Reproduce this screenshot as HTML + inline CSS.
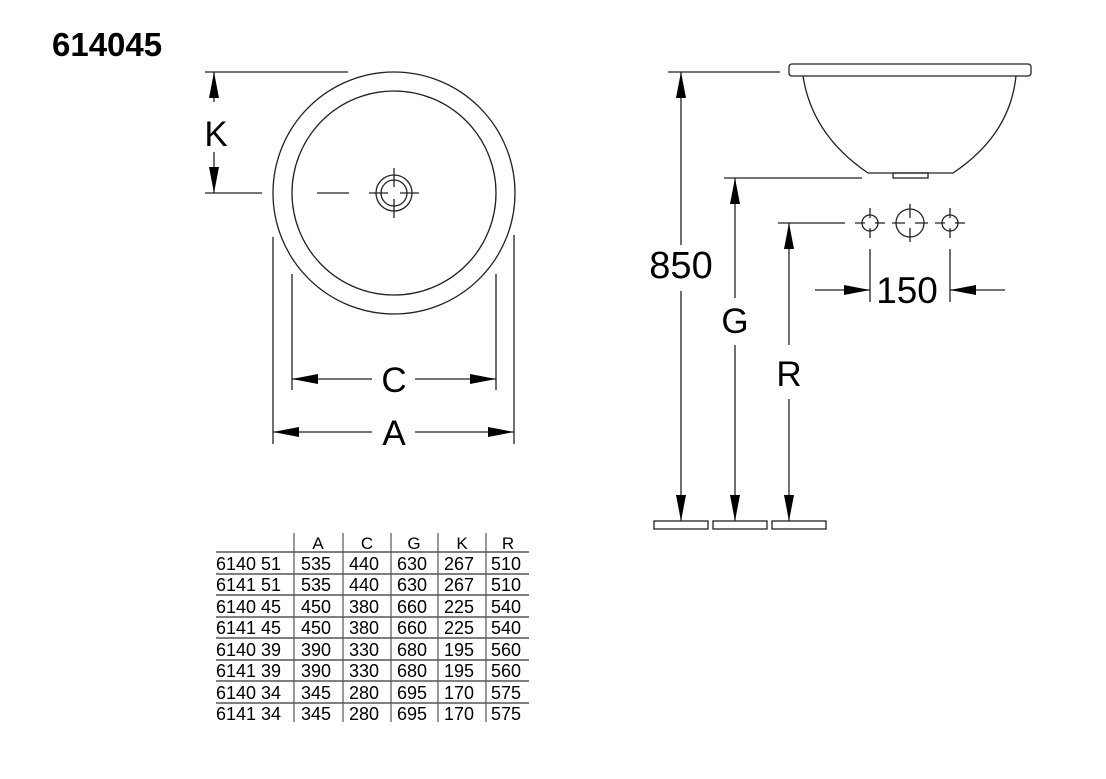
<!DOCTYPE html>
<html><head><meta charset="utf-8"><style>
html,body{margin:0;padding:0;background:#fff;}
svg{display:block;}
text{font-family:"Liberation Sans",sans-serif;fill:#000;}
</style></head><body>
<svg width="1106" height="779" viewBox="0 0 1106 779" xmlns="http://www.w3.org/2000/svg">
<defs>
<marker id="ar" markerWidth="26" markerHeight="10" refX="26" refY="5" orient="auto" markerUnits="userSpaceOnUse">
<path d="M0,0 L26,5 L0,10 Z" fill="#000"/></marker>
</defs>
<text x="52" y="56" font-size="33" font-weight="bold">614045</text>

<g stroke="#222" stroke-width="1.3" fill="none">
<circle cx="394" cy="193" r="121"/>
<circle cx="394" cy="193" r="102"/>
<circle cx="394" cy="193" r="18"/>
<circle cx="394" cy="193" r="13"/>
<line x1="317" y1="193" x2="349" y2="193"/>
<line x1="369" y1="193" x2="388" y2="193"/>
<line x1="400" y1="193" x2="419" y2="193"/>
<line x1="394" y1="168" x2="394" y2="187"/>
<line x1="394" y1="199" x2="394" y2="218"/>
<line x1="205" y1="72" x2="348" y2="72"/>
<line x1="205" y1="193" x2="262" y2="193"/>
<line x1="214" y1="102" x2="214" y2="72" marker-end="url(#ar)"/>
<line x1="214" y1="152" x2="214" y2="193" marker-end="url(#ar)"/>
<line x1="273" y1="237" x2="273" y2="444"/>
<line x1="514" y1="235" x2="514" y2="444"/>
<line x1="292" y1="274" x2="292" y2="390"/>
<line x1="496" y1="274" x2="496" y2="390"/>
<line x1="372" y1="379" x2="292" y2="379" marker-end="url(#ar)"/>
<line x1="415" y1="379" x2="496" y2="379" marker-end="url(#ar)"/>
<line x1="372" y1="432" x2="273" y2="432" marker-end="url(#ar)"/>
<line x1="415" y1="432" x2="514" y2="432" marker-end="url(#ar)"/>

<rect x="789" y="64" width="242" height="12" rx="3"/>
<path d="M803,76 Q812,135 868,173 L953,173 Q1010,135 1016,76"/>
<rect x="893" y="173" width="35" height="5"/>
<line x1="668" y1="72" x2="780" y2="72"/>
<line x1="724" y1="178" x2="862" y2="178"/>
<line x1="778" y1="223" x2="845" y2="223"/>
<line x1="681" y1="245" x2="681" y2="72" marker-end="url(#ar)"/>
<line x1="681" y1="291" x2="681" y2="521" marker-end="url(#ar)"/>
<line x1="735" y1="298" x2="735" y2="178" marker-end="url(#ar)"/>
<line x1="735" y1="345" x2="735" y2="521" marker-end="url(#ar)"/>
<line x1="789" y1="345" x2="789" y2="223" marker-end="url(#ar)"/>
<line x1="789" y1="399" x2="789" y2="521" marker-end="url(#ar)"/>
<rect x="654" y="521" width="54" height="8"/>
<rect x="713" y="521" width="54" height="8"/>
<rect x="772" y="521" width="54" height="8"/>
<circle cx="870" cy="223" r="8"/>
<circle cx="910" cy="223" r="14"/>
<circle cx="950" cy="223" r="8"/>
<path d="M855,223h10M875,223h10M870,208v10M870,228v10 M892,223h13M915,223h13M910,204v14M910,228v14 M935,223h10M955,223h10M950,208v10M950,228v10"/>
<line x1="870" y1="249" x2="870" y2="302"/>
<line x1="950" y1="249" x2="950" y2="302"/>
<line x1="815" y1="290" x2="870" y2="290" marker-end="url(#ar)"/>
<line x1="1005" y1="290" x2="950" y2="290" marker-end="url(#ar)"/>
</g>

<g font-size="35" text-anchor="middle">
<text x="216" y="146">K</text>
<text x="394" y="392">C</text>
<text x="394" y="445">A</text>
<text x="681" y="278" font-size="38">850</text>
<text x="735" y="333">G</text>
<text x="789" y="386">R</text>
<text x="907" y="303" font-size="37">150</text>
</g>

<g stroke="#333" stroke-width="1">
<line x1="294" y1="533" x2="294" y2="722"/>
<line x1="343" y1="533" x2="343" y2="722"/>
<line x1="391" y1="533" x2="391" y2="722"/>
<line x1="438" y1="533" x2="438" y2="722"/>
<line x1="486" y1="533" x2="486" y2="722"/>
</g>
<g stroke="#555" stroke-width="1.6">
<line x1="216" y1="552" x2="529" y2="552"/>
<line x1="216" y1="574" x2="529" y2="574"/>
<line x1="216" y1="595" x2="529" y2="595"/>
<line x1="216" y1="617" x2="529" y2="617"/>
<line x1="216" y1="638" x2="529" y2="638"/>
<line x1="216" y1="660" x2="529" y2="660"/>
<line x1="216" y1="681" x2="529" y2="681"/>
<line x1="216" y1="703" x2="529" y2="703"/>
</g>
<g font-size="17" text-anchor="middle">
<text x="318" y="549">A</text><text x="367" y="549">C</text><text x="414" y="549">G</text><text x="462" y="549">K</text><text x="508" y="549">R</text>
</g>
<g font-size="18">
<g transform="translate(0,570)"><text x="216">6140 51</text><text x="301">535</text><text x="349">440</text><text x="397">630</text><text x="444">267</text><text x="491">510</text></g>
<g transform="translate(0,591)"><text x="216">6141 51</text><text x="301">535</text><text x="349">440</text><text x="397">630</text><text x="444">267</text><text x="491">510</text></g>
<g transform="translate(0,613)"><text x="216">6140 45</text><text x="301">450</text><text x="349">380</text><text x="397">660</text><text x="444">225</text><text x="491">540</text></g>
<g transform="translate(0,634)"><text x="216">6141 45</text><text x="301">450</text><text x="349">380</text><text x="397">660</text><text x="444">225</text><text x="491">540</text></g>
<g transform="translate(0,656)"><text x="216">6140 39</text><text x="301">390</text><text x="349">330</text><text x="397">680</text><text x="444">195</text><text x="491">560</text></g>
<g transform="translate(0,677)"><text x="216">6141 39</text><text x="301">390</text><text x="349">330</text><text x="397">680</text><text x="444">195</text><text x="491">560</text></g>
<g transform="translate(0,699)"><text x="216">6140 34</text><text x="301">345</text><text x="349">280</text><text x="397">695</text><text x="444">170</text><text x="491">575</text></g>
<g transform="translate(0,720)"><text x="216">6141 34</text><text x="301">345</text><text x="349">280</text><text x="397">695</text><text x="444">170</text><text x="491">575</text></g>
</g>
</svg>
</body></html>
